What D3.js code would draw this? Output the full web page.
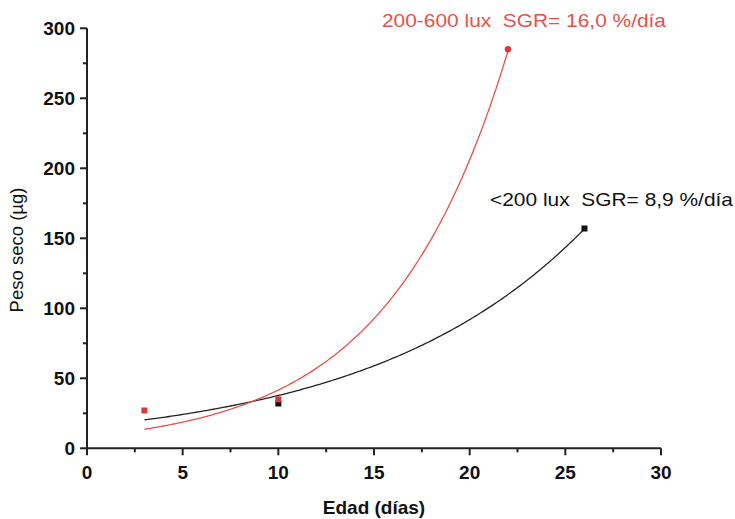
<!DOCTYPE html>
<html>
<head>
<meta charset="utf-8">
<script src="https://cdn.jsdelivr.net/npm/d3@7/dist/d3.min.js"></script>
<style>
  html, body { margin: 0; padding: 0; background: #fff; }
  text { font-family: "Liberation Sans", Arial, sans-serif; white-space: pre; }
</style>
</head>
<body>
<svg id="chart" width="735" height="519"></svg>
<script>
// Dry weight (µg) vs age (days) under two light regimes
const lowDays = [3, 10, 26];
const lowWeight = [20, 32, 157];
const highDays = [3, 10, 22];
const highWeight = [27, 35, 285];

// Exponential growth fits: W = w0 * exp(SGR * t)
const lowSGR = 0.089, lowW0 = 15.5, lowRange = [3, 26];
const highSGR = 0.160, highW0 = 8.4, highRange = [3, 22];

const xTicks = [0, 5, 10, 15, 20, 25, 30];
const yTicks = [0, 50, 100, 150, 200, 250, 300];

const lowLabel = "<200 lux  SGR= 8,9 %/día";
const highLabel = "200-600 lux  SGR= 16,0 %/día";

const svg = d3.select("#chart");
const x = d3.scaleLinear().domain([0, 30]).range([87, 661]);
const y = d3.scaleLinear().domain([0, 300]).range([448.3, 28.3]);

const axisColor = "#222";

// minor ticks
const xMinor = d3.range(2.5, 30, 5);
const yMinor = d3.range(25, 300, 50);

const gx = svg.append("g").attr("transform", `translate(0,${y(0)})`);
gx.append("line").attr("x1", x(0) - 1).attr("x2", x(30)).attr("stroke", axisColor).attr("stroke-width", 2);
gx.selectAll(".maj").data(xTicks).join("line")
  .attr("x1", d => x(d)).attr("x2", d => x(d)).attr("y1", 0).attr("y2", 7)
  .attr("stroke", axisColor).attr("stroke-width", 2);
gx.selectAll(".min").data(xMinor).join("line")
  .attr("x1", d => x(d)).attr("x2", d => x(d)).attr("y1", 0).attr("y2", 4)
  .attr("stroke", axisColor).attr("stroke-width", 2);
gx.selectAll("text").data(xTicks).join("text")
  .attr("x", d => x(d)).attr("y", 31)
  .attr("text-anchor", "middle").attr("font-size", 19).attr("font-weight", "bold")
  .attr("fill", "#111").text(d => d);

const gy = svg.append("g").attr("transform", `translate(${x(0)},0)`);
gy.append("line").attr("y1", y(0) + 1).attr("y2", y(300)).attr("stroke", axisColor).attr("stroke-width", 2);
gy.selectAll(".maj").data(yTicks).join("line")
  .attr("y1", d => y(d)).attr("y2", d => y(d)).attr("x1", 0).attr("x2", -7)
  .attr("stroke", axisColor).attr("stroke-width", 2);
gy.selectAll(".min").data(yMinor).join("line")
  .attr("y1", d => y(d)).attr("y2", d => y(d)).attr("x1", 0).attr("x2", -4)
  .attr("stroke", axisColor).attr("stroke-width", 2);
gy.selectAll("text").data(yTicks).join("text")
  .attr("x", -12).attr("y", d => y(d)).attr("dy", "0.36em")
  .attr("text-anchor", "end").attr("font-size", 19).attr("font-weight", "bold")
  .attr("fill", "#111").text(d => d);

// axis titles
svg.append("text").attr("x", 374).attr("y", 514)
  .attr("text-anchor", "middle").attr("font-size", 19).attr("font-weight", "bold")
  .attr("fill", "#111").text("Edad (días)");
svg.append("text").attr("transform", "translate(23,250) rotate(-90)")
  .attr("text-anchor", "middle").attr("font-size", 18.5)
  .attr("fill", "#111").text("Peso seco (µg)");

// fitted curves
const line = d3.line().x(d => x(d[0])).y(d => y(d[1])).curve(d3.curveLinear);
function fitPoints(w0, r, range) {
  return d3.range(range[0], range[1] + 0.001, 0.1).map(t => [t, w0 * Math.exp(r * t)]);
}
svg.append("path").datum(fitPoints(lowW0, lowSGR, lowRange))
  .attr("d", line).attr("fill", "none").attr("stroke", "#222").attr("stroke-width", 1.3);
svg.append("path").datum(fitPoints(highW0, highSGR, highRange))
  .attr("d", line).attr("fill", "none").attr("stroke", "#e8504a").attr("stroke-width", 1.3);

// observed points
const lowPts = lowDays.map((d, i) => [d, lowWeight[i]]).filter(p => p[0] !== 3);
svg.selectAll(".lowpt").data(lowPts).join("rect")
  .attr("x", d => x(d[0]) - 3).attr("y", d => y(d[1]) - 3)
  .attr("width", 6).attr("height", 6).attr("fill", "#111");

const highPts = highDays.map((d, i) => [d, highWeight[i]]);
svg.selectAll(".highsq").data(highPts.slice(0, 2)).join("rect")
  .attr("x", d => x(d[0]) - 3).attr("y", d => y(d[1]) - 3)
  .attr("width", 6).attr("height", 6).attr("fill", "#d8383a");
svg.selectAll(".highci").data(highPts.slice(2)).join("circle")
  .attr("cx", d => x(d[0])).attr("cy", d => y(d[1])).attr("r", 3.2)
  .attr("fill", "#d8383a");

// annotations
svg.append("text").attr("x", 382).attr("y", 27).attr("font-size", 19)
  .attr("textLength", 284).attr("lengthAdjust", "spacingAndGlyphs")
  .attr("fill", "#e8504a").text(highLabel);
svg.append("text").attr("x", 490).attr("y", 206).attr("font-size", 19)
  .attr("textLength", 243).attr("lengthAdjust", "spacingAndGlyphs")
  .attr("fill", "#111").text(lowLabel);
</script>
</body>
</html>
